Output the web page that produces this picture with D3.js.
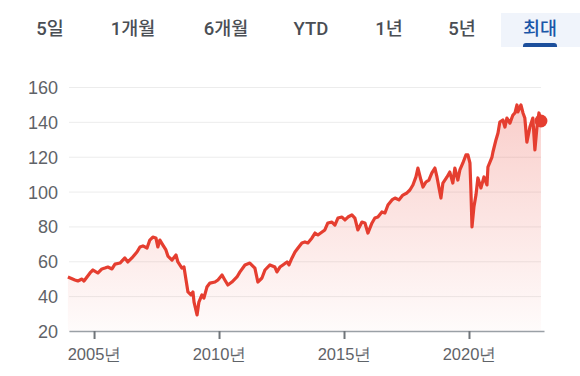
<!DOCTYPE html>
<html>
<head>
<meta charset="utf-8">
<script src="https://cdn.jsdelivr.net/npm/d3@7"></script>
<style>
    body { margin: 0; background: #fff; }
    svg { display: block; font-family: Roboto, "Noto Sans CJK KR", sans-serif; }
    .tab { font-size: 18.5px; font-weight: 500; fill: #4a4e54; }
    .tab.on { fill: #1a56a8; }
    .yAxis text { font-size: 18px; fill: #5f6368; }
    .xAxis text { font-size: 16.5px; fill: #5f6368; }
</style>
</head>
<body>
<svg id="vis" width="580" height="376"></svg>
<script>
var tabs = ["5일", "1개월", "6개월", "YTD", "1년", "5년", "최대"]
var selectedTab = "최대"

var yTicks = [20, 40, 60, 80, 100, 120, 140, 160]

var dates = [
    "2003-12-16", "2004-03-27", "2004-05-10", "2004-07-08", "2004-08-07", "2004-09-20", "2004-11-03", "2004-12-16",
    "2005-01-29", "2005-02-28", "2005-04-26", "2005-06-09", "2005-07-22", "2005-09-20", "2005-11-03",
    "2006-01-15", "2006-03-27", "2006-05-10", "2006-07-08", "2006-09-20", "2006-11-03", "2006-12-16",
    "2007-02-14", "2007-03-27", "2007-05-10", "2007-06-24", "2007-07-22", "2007-08-21", "2007-10-04", "2007-11-17", "2007-12-16",
    "2008-02-14", "2008-04-12", "2008-05-10", "2008-07-08", "2008-08-07", "2008-09-06", "2008-10-04", "2008-11-17", "2008-12-16",
    "2009-01-01", "2009-02-14", "2009-03-13", "2009-04-26", "2009-05-25", "2009-07-08", "2009-08-21", "2009-11-03", "2009-12-16",
    "2010-02-14", "2010-03-27", "2010-05-10", "2010-07-08", "2010-09-20", "2010-11-03",
    "2011-01-15", "2011-03-27", "2011-06-09", "2011-07-22", "2011-09-20", "2011-11-03",
    "2012-01-15", "2012-03-27", "2012-04-26", "2012-06-09", "2012-07-22", "2012-09-20", "2012-10-19", "2012-12-02",
    "2013-01-15", "2013-02-28", "2013-04-26", "2013-06-09", "2013-07-22", "2013-09-20", "2013-11-03", "2013-12-16",
    "2014-02-14", "2014-03-27", "2014-05-10", "2014-07-08", "2014-08-21", "2014-10-04", "2014-12-02",
    "2015-01-15", "2015-02-28", "2015-04-26", "2015-06-09", "2015-07-22", "2015-09-20", "2015-11-03", "2015-12-16",
    "2016-02-14", "2016-03-27", "2016-05-10", "2016-07-08", "2016-08-21", "2016-10-04", "2016-12-02",
    "2017-01-15", "2017-03-13", "2017-05-10", "2017-07-08", "2017-08-21", "2017-10-04", "2017-11-17", "2017-12-16",
    "2018-01-29", "2018-02-28", "2018-04-12", "2018-05-25", "2018-07-08", "2018-08-21", "2018-09-20", "2018-11-17", "2018-12-16",
    "2019-02-14", "2019-03-27", "2019-05-10", "2019-06-09", "2019-07-22", "2019-08-21", "2019-10-04", "2019-11-17", "2019-12-16",
    "2020-01-15", "2020-01-29", "2020-02-14", "2020-03-13", "2020-04-12", "2020-05-10", "2020-06-24", "2020-08-07", "2020-09-20", "2020-10-04", "2020-12-02", "2020-12-16",
    "2021-01-29", "2021-02-28", "2021-03-27", "2021-05-10", "2021-06-09", "2021-07-08", "2021-08-21", "2021-10-04", "2021-11-03", "2021-12-02", "2021-12-16",
    "2022-01-29", "2022-02-28", "2022-03-27", "2022-04-26", "2022-06-09", "2022-07-22", "2022-08-21", "2022-09-20", "2022-10-19", "2022-11-17"
]

var prices = [
    51.0, 49.3, 48.7, 49.8, 48.7, 51.0, 53.3, 55.0,
    53.9, 53.3, 55.6, 56.1, 56.7, 55.6, 58.4,
    59.0, 61.9, 59.6, 61.9, 65.3, 68.2, 68.8,
    67.6, 72.2, 73.9, 73.4, 68.2, 72.2, 69.3, 66.5, 63.0,
    60.7, 63.6, 59.6, 56.1, 56.7, 49.3, 42.4, 40.7, 42.4,
    36.6, 29.2, 36.6, 40.7, 38.9, 45.2, 47.5, 48.1, 49.3,
    52.1, 49.3, 46.4, 48.1, 51.0, 53.9,
    57.9, 59.0, 56.1, 48.1, 50.4, 55.0,
    57.9, 56.7, 53.9, 56.7, 57.9, 59.6, 57.9, 61.9,
    65.3, 67.6, 70.5, 71.1, 70.5, 73.4, 76.2, 75.1,
    76.8, 78.0, 82.0, 82.5, 80.8, 84.8, 85.4,
    83.7, 85.4, 86.6, 84.8, 78.0, 82.5, 82.0, 76.2,
    82.0, 84.8, 85.4, 88.3, 87.7, 92.3, 95.2,
    96.3, 95.2, 98.0, 99.2, 100.9, 103.8, 108.4, 113.5,
    106.6, 102.6, 105.5, 106.6, 110.7, 113.5, 108.4, 96.3, 104.9,
    108.4, 111.2, 104.9, 113.5, 106.6, 112.4, 116.4, 121.0, 121.0,
    116.4, 100.9, 79.7, 91.1, 98.0, 107.8, 102.1, 108.4, 103.8, 114.1, 119.8, 122.7,
    129.6, 133.6, 139.9, 141.1, 137.0, 142.2, 139.3, 143.9, 145.1, 149.7, 145.7,
    149.7, 145.1, 142.2, 128.4, 137.0, 142.2, 123.9, 137.0, 145.1, 140.5
]

var parseDate = d3.timeParse("%Y-%m-%d")
var series = dates.map(function(d, i) { return { date: parseDate(d), value: prices[i] } })

var svg = d3.select("#vis")

// ---- range tabs (centers follow the tab strip layout) ----
var tabCenters = [50, 133, 226, 311, 389, 462, 540]
var tabY = 35
var tabG = svg.append("g").attr("id", "tabs")

// selected tab background goes underneath the labels
var selIdx = tabs.indexOf(selectedTab)
var selBg = tabG.append("rect")

tabG.selectAll("text")
    .data(tabs)
    .enter()
    .append("text")
    .attr("class", function(d) { return d == selectedTab ? "tab on" : "tab" })
    .attr("x", function(d, i) { return tabCenters[i] })
    .attr("y", tabY)
    .attr("text-anchor", "middle")
    .text(function(d) { return d })

var selText = tabG.selectAll("text").filter(function(d) { return d == selectedTab }).node()
var w = selText.getComputedTextLength()
var cx = tabCenters[selIdx]

selBg.attr("x", cx - w / 2 - 22).attr("y", 13)
    .attr("width", 580 - (cx - w / 2 - 22)).attr("height", 34)
    .attr("fill", "#f0f4fb")

// underline with rounded top corners
var ux = cx - w / 2, uw = w, uy = 43, uh = 4, r = 3
tabG.append("path")
    .attr("d", `M${ux} ${uy + uh} L${ux} ${uy + r} Q${ux} ${uy} ${ux + r} ${uy} L${ux + uw - r} ${uy} Q${ux + uw} ${uy} ${ux + uw} ${uy + r} L${ux + uw} ${uy + uh} Z`)
    .attr("fill", "#1c4f9c")

// ---- chart ----
var x = d3.scaleTime()
    .domain([new Date(2004, 0, 1), new Date(2023, 0, 1)])
    .range([69, 544])

var y = d3.scaleLinear()
    .domain([20, 160])
    .range([331, 87])

var defs = svg.append("defs")
var grad = defs.append("linearGradient")
    .attr("id", "fillGrad")
    .attr("gradientUnits", "userSpaceOnUse")
    .attr("x1", 0).attr("x2", 0)
    .attr("y1", y(150)).attr("y2", y(20))
grad.append("stop").attr("offset", 0).attr("stop-color", "#ea4335").attr("stop-opacity", 0.26)
grad.append("stop").attr("offset", 1).attr("stop-color", "#ea4335").attr("stop-opacity", 0.02)

// horizontal grid + labels
var yAxis = d3.axisLeft(y)
    .tickValues(yTicks)
    .tickSize(-(541 - 69))
    .tickPadding(11)

svg.append("g")
    .attr("class", "yAxis")
    .attr("transform", "translate(69,0)")
    .call(yAxis)
    .call(function(g) { g.select(".domain").remove() })
    .call(function(g) { g.selectAll(".tick line").attr("stroke", "#ececec").attr("stroke-width", 1) })
    .call(function(g) { g.selectAll(".tick text").attr("dy", "0.36em") })

var area = d3.area()
    .x(function(d) { return x(d.date) })
    .y0(y(20))
    .y1(function(d) { return y(d.value) })

var line = d3.line()
    .x(function(d) { return x(d.date) })
    .y(function(d) { return y(d.value) })

svg.append("path")
    .datum(series)
    .attr("d", area)
    .attr("fill", "url(#fillGrad)")

// x axis
var xAxis = d3.axisBottom(x)
    .ticks(d3.timeYear.every(5))
    .tickFormat(function(d) { return d.getFullYear() + "년" })
    .tickSize(8)
    .tickSizeOuter(0)
    .tickPadding(9)

svg.append("g")
    .attr("class", "xAxis")
    .attr("transform", "translate(0,331)")
    .call(xAxis)
    .call(function(g) { g.select(".domain").attr("stroke", "#9aa0a6").attr("stroke-width", 1.5) })
    .call(function(g) { g.selectAll(".tick line").attr("stroke", "#70757a").attr("stroke-width", 2) })

svg.append("path")
    .datum(series)
    .attr("d", line)
    .attr("fill", "none")
    .attr("stroke", "#e53e30")
    .attr("stroke-width", 3.2)
    .attr("stroke-linejoin", "round")

var last = series[series.length - 1]
svg.append("circle")
    .attr("cx", x(last.date))
    .attr("cy", y(last.value))
    .attr("r", 6.5)
    .attr("fill", "#e53e30")
</script>
</body>
</html>
